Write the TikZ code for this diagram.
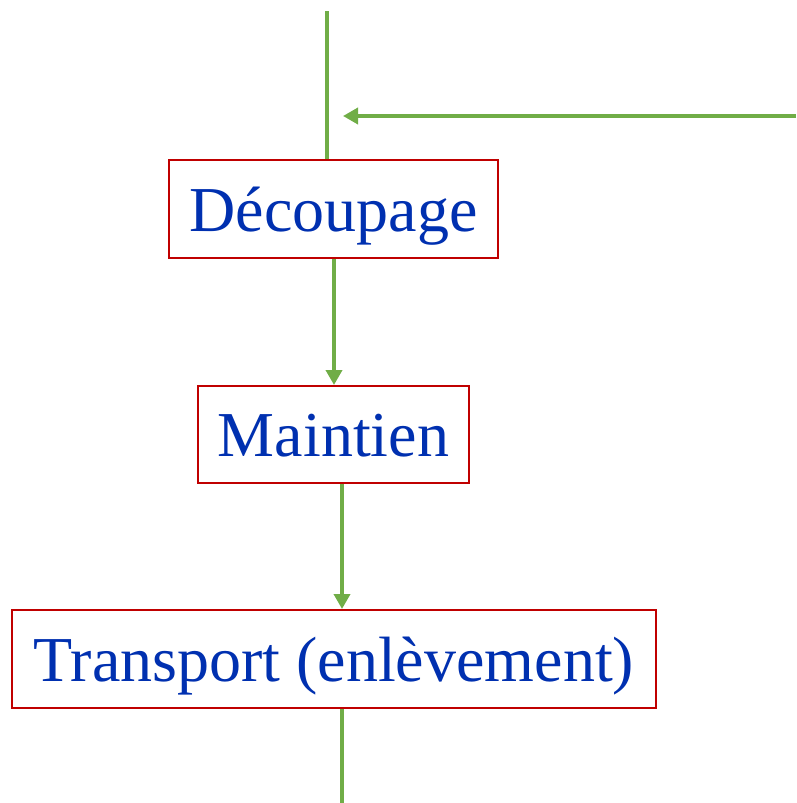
\documentclass[tikz,border=0pt]{standalone}
\usepackage{fontspec}
\setmainfont{Liberation Serif}
\usetikzlibrary{arrows.meta}
\definecolor{boxred}{RGB}{192,0,0}
\definecolor{txtblue}{RGB}{0,48,176}
\definecolor{flowgreen}{RGB}{112,173,71}
\begin{document}
\begin{tikzpicture}[x=1pt,y=-1pt,
  stepbox/.style={draw=boxred,line width=2pt,fill=white,text=txtblue,
    font=\fontsize{64}{70}\selectfont,inner sep=0pt,anchor=center,
    text height=44pt,text depth=0pt},
  flow/.style={draw=flowgreen,line width=3.6pt},
  flowarrow/.style={flow,-{Triangle[length=15pt,width=16pt]}}]
\useasboundingbox (0,0) rectangle (796,803);
\node[stepbox,minimum width=329pt,minimum height=98pt] (dec) at (333.5,209) {Découpage};
\node[stepbox,minimum width=271pt,minimum height=97pt] (main) at (333.5,434.5) {Maintien};
\node[stepbox,minimum width=644pt,minimum height=98pt] (trans) at (334,659) {Transport (enlèvement)};
\coordinate (top) at (327,11);
\coordinate (inR) at (796,116);
\coordinate (inL) at (343,116);
\coordinate (bot) at (342,803);
\draw[flow] (top) -- (top |- dec.north);
\draw[flowarrow] (inR) -- (inL);
\draw[flowarrow] (dec.south -| 334,0) -- (main.north -| 334,0);
\draw[flowarrow] (main.south -| 342,0) -- (trans.north -| 342,0);
\draw[flow] (trans.south -| bot) -- (bot);
\end{tikzpicture}
\end{document}
